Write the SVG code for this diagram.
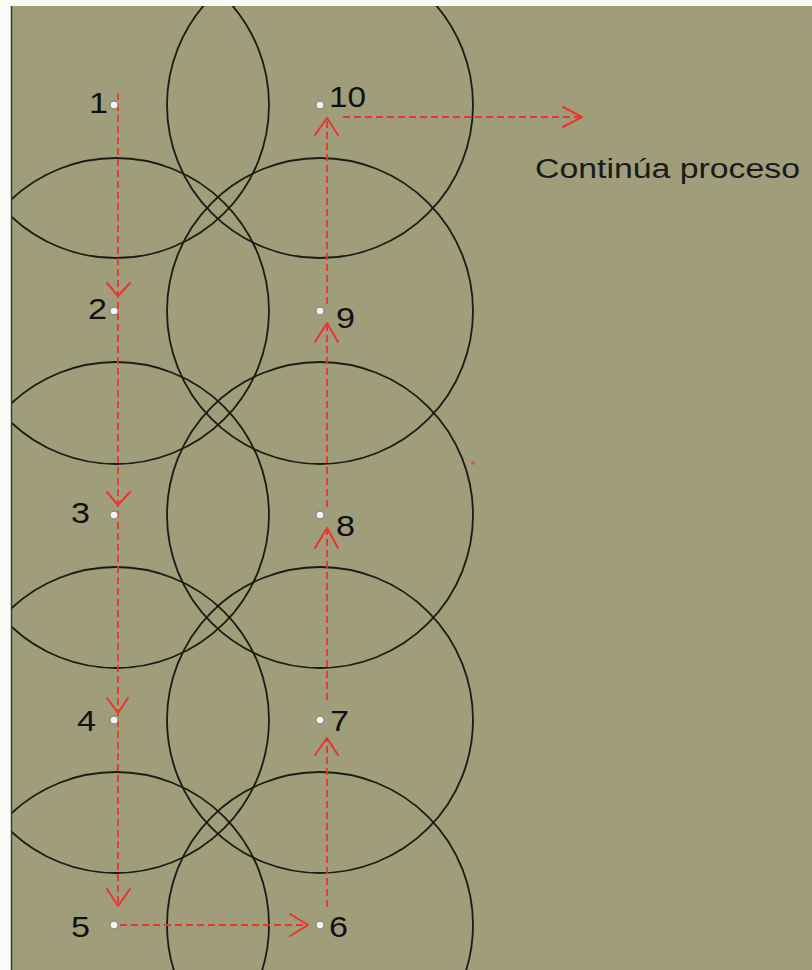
<svg xmlns="http://www.w3.org/2000/svg" width="812" height="970" viewBox="0 0 812 970">
  <defs>
    <clipPath id="bgclip"><rect x="12" y="6" width="800" height="964"/></clipPath>
    <style>
      .ring { fill: none; stroke: #1c1c14; stroke-width: 1.8; }
      .flow { fill: none; stroke: #e8362f; stroke-width: 1.8; stroke-dasharray: 7 4; }
      .head { fill: none; stroke: #e8362f; stroke-width: 2; stroke-linecap: round; stroke-linejoin: round; }
      .pt { fill: #f6f6f2; stroke: #8c8c84; stroke-width: 1.4; }
      .lbl { font-family: "Liberation Sans", Arial, sans-serif; font-size: 30px; fill: #111; }
      .note { font-family: "Liberation Sans", Arial, sans-serif; font-size: 27px; fill: #1a1a1a; }
    </style>
  </defs>

  <rect x="0" y="0" width="812" height="970" fill="#fbfbf6"/>
  <rect x="12" y="6" width="800" height="964" fill="#a09d7a"/>
  <line x1="11.5" y1="6" x2="11.5" y2="970" stroke="#3a3a30" stroke-width="1.5"/>

  <g id="circles" clip-path="url(#bgclip)">
    <circle class="ring" cx="116" cy="105" r="153"/>
    <circle class="ring" cx="116" cy="311" r="153"/>
    <circle class="ring" cx="116" cy="515" r="153"/>
    <circle class="ring" cx="116" cy="720" r="153"/>
    <circle class="ring" cx="116" cy="925" r="153"/>
    <circle class="ring" cx="320" cy="105" r="153"/>
    <circle class="ring" cx="320" cy="311" r="153"/>
    <circle class="ring" cx="320" cy="515" r="153"/>
    <circle class="ring" cx="320" cy="720" r="153"/>
    <circle class="ring" cx="320" cy="925" r="153"/>
  </g>

  <g id="connectors">
    <line class="flow" x1="118" y1="93" x2="118" y2="905"/>
    <polyline class="head" points="107,283 118,296 130,283"/>
    <polyline class="head" points="107,492 118,505 130,492"/>
    <polyline class="head" points="107,698 118,713 128,698"/>
    <polyline class="head" points="107,889 118,906 130,889"/>
    <line class="flow" x1="120" y1="925" x2="307" y2="925"/>
    <polyline class="head" points="290,914 308,925 290,936"/>
    <line class="flow" x1="327" y1="907" x2="327" y2="739"/>
    <polyline class="head" points="315,755 327,738 338,755"/>
    <line class="flow" x1="327" y1="700" x2="327" y2="529"/>
    <polyline class="head" points="315,548 327,528 338,548"/>
    <line class="flow" x1="327" y1="507" x2="327" y2="324"/>
    <polyline class="head" points="315,342 327,323 338,342"/>
    <line class="flow" x1="327" y1="304" x2="327" y2="119"/>
    <polyline class="head" points="315,135 327,118 338,135"/>
    <line class="flow" x1="343" y1="117" x2="581" y2="117"/>
    <polyline class="head" points="563,107 582,117 563,127"/>
  </g>

  <g id="p1"><circle class="pt" cx="114" cy="105" r="4"/><text class="lbl" x="89" y="113" textLength="19" lengthAdjust="spacingAndGlyphs">1</text></g>
  <g id="p2"><circle class="pt" cx="114" cy="311" r="4"/><text class="lbl" x="88" y="319" textLength="19" lengthAdjust="spacingAndGlyphs">2</text></g>
  <g id="p3"><circle class="pt" cx="114" cy="515" r="4"/><text class="lbl" x="71" y="523" textLength="19" lengthAdjust="spacingAndGlyphs">3</text></g>
  <g id="p4"><circle class="pt" cx="114" cy="720" r="4"/><text class="lbl" x="77" y="731" textLength="19" lengthAdjust="spacingAndGlyphs">4</text></g>
  <g id="p5"><circle class="pt" cx="114" cy="925" r="4"/><text class="lbl" x="71" y="937" textLength="19" lengthAdjust="spacingAndGlyphs">5</text></g>
  <g id="p6"><circle class="pt" cx="320" cy="925" r="4"/><text class="lbl" x="329" y="937" textLength="19" lengthAdjust="spacingAndGlyphs">6</text></g>
  <g id="p7"><circle class="pt" cx="320" cy="720" r="4"/><text class="lbl" x="330" y="731" textLength="19" lengthAdjust="spacingAndGlyphs">7</text></g>
  <g id="p8"><circle class="pt" cx="320" cy="515" r="4"/><text class="lbl" x="336" y="536" textLength="19" lengthAdjust="spacingAndGlyphs">8</text></g>
  <g id="p9"><circle class="pt" cx="320" cy="311" r="4"/><text class="lbl" x="336" y="328" textLength="19" lengthAdjust="spacingAndGlyphs">9</text></g>
  <g id="p10"><circle class="pt" cx="320" cy="105" r="4"/><text class="lbl" x="329" y="107" textLength="37" lengthAdjust="spacingAndGlyphs">10</text></g>

  <g id="continua">
    <text class="note" x="535" y="178" textLength="265" lengthAdjust="spacingAndGlyphs">Continúa proceso</text>
  </g>

  <circle cx="473" cy="463" r="1.8" fill="#e0503a"/>
</svg>
